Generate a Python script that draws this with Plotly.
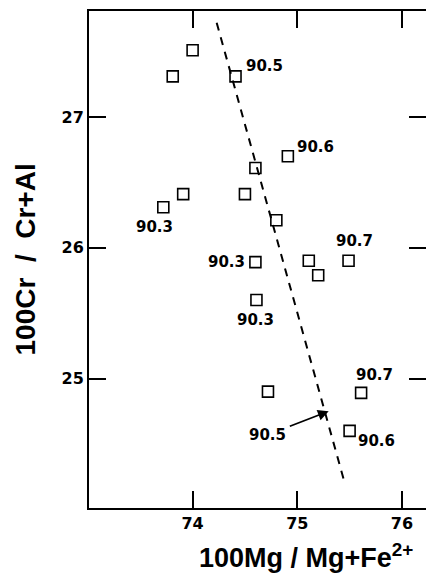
import plotly.graph_objects as go

# Data points: 100Mg/(Mg+Fe2+) vs 100Cr/(Cr+Al)
mg_number = [74.00, 73.81, 74.41, 74.91, 74.60, 73.91, 74.50, 73.72, 74.80,
             74.60, 75.11, 75.20, 75.49, 74.61, 74.72, 75.61, 75.50]
cr_number = [27.51, 27.31, 27.31, 26.70, 26.61, 26.41, 26.41, 26.31, 26.21,
             25.89, 25.90, 25.79, 25.90, 25.60, 24.90, 24.89, 24.60]

# Dashed trend line endpoints
trend_x = [74.23, 75.45]
trend_y = [27.72, 24.21]

# Point labels (text and label-centre position)
label_text = ["90.5", "90.6", "90.3", "90.3", "90.7", "90.3", "90.7", "90.6"]
label_x = [74.69, 75.17, 73.64, 74.32, 75.55, 74.60, 75.74, 75.76]
label_y = [27.39, 26.77, 26.16, 25.89, 26.05, 25.45, 25.03, 24.52]

# Arrowed label pointing to the trend line
arrow_label = "90.5"
arrow_label_pos = (74.72, 24.57)
arrow_head = (75.30, 24.75)

x_ticks = [74, 75, 76]
y_ticks = [25, 26, 27]
x_range = [73.01, 76.23]
y_range = [24.01, 27.81]

FONT = "Liberation Sans, Arial, Helvetica, sans-serif"
WIDE = "DejaVu Sans, Verdana, sans-serif"

fig = go.Figure()
fig.add_trace(go.Scatter(
    x=trend_x, y=trend_y, mode="lines",
    line=dict(color="black", width=2, dash="8px,7px"),
    hoverinfo="skip", showlegend=False))
fig.add_trace(go.Scatter(
    x=mg_number, y=cr_number, mode="markers",
    marker=dict(symbol="square-open", size=11, color="black",
                line=dict(color="black", width=1.6)),
    showlegend=False))
# invisible trace to activate right-side tick axis
fig.add_trace(go.Scatter(x=[x_range[0]], y=[y_range[0]], yaxis="y2",
                         mode="markers", marker=dict(opacity=0),
                         hoverinfo="skip", showlegend=False))

annotations = []
for t, lx, ly in zip(label_text, label_x, label_y):
    annotations.append(dict(x=lx, y=ly, xref="x", yref="y", text=f"<b>{t}</b>",
                            showarrow=False, xanchor="center", yanchor="middle",
                            font=dict(family=WIDE, size=15, color="black")))
annotations.append(dict(x=arrow_head[0], y=arrow_head[1],
                        ax=arrow_label_pos[0], ay=arrow_label_pos[1],
                        xref="x", yref="y", axref="x", ayref="y",
                        text=f"<b>{arrow_label}</b>",
                        font=dict(family=WIDE, size=15, color="black"),
                        showarrow=True, arrowhead=2, arrowsize=1.2, arrowwidth=1.8,
                        arrowcolor="black", standoff=0, startstandoff=2))
annotations.append(dict(x=(306 - 89) / 337, y=-0.135, xref="paper", yref="paper",
                        text="<b>100Mg / Mg+Fe<sup>2+</sup></b>", showarrow=False,
                        xanchor="center", yanchor="bottom",
                        font=dict(family=FONT, size=27, color="black")))
annotations.append(dict(x=-0.187, y=0.5, xref="paper", yref="paper",
                        text="<b>100Cr \u00a0/\u00a0 Cr+Al</b>", showarrow=False, textangle=-90,
                        xanchor="center", yanchor="middle",
                        font=dict(family=FONT, size=28, color="black")))

fig.update_layout(
    template="none",
    width=426, height=577,
    margin=dict(l=89, r=0, t=11, b=69, autoexpand=False),
    paper_bgcolor="white", plot_bgcolor="white",
    annotations=annotations,
    xaxis=dict(range=x_range, tickvals=x_ticks, ticktext=[str(v) for v in x_ticks],
               automargin=False,
               showgrid=False, zeroline=False, showline=True, linecolor="black",
               linewidth=2, mirror="ticks", ticks="inside", ticklen=17, tickwidth=2,
               tickcolor="black",
               tickfont=dict(family=WIDE, size=16, color="black", weight="bold")),
    yaxis=dict(range=y_range, tickvals=y_ticks, ticktext=[str(v) for v in y_ticks],
               automargin=False,
               showgrid=False, zeroline=False, showline=True, linecolor="black",
               linewidth=2, mirror=False, ticks="inside", ticklen=17, tickwidth=2,
               tickcolor="black",
               tickfont=dict(family=WIDE, size=16, color="black", weight="bold")),
    yaxis2=dict(range=y_range, tickvals=y_ticks, overlaying="y", side="right",
                automargin=False,
                showgrid=False, zeroline=False, showline=False, showticklabels=False,
                ticks="inside", ticklen=17, tickwidth=2, tickcolor="black"),
)

fig.write_html(
    "out.html",
    config={"displayModeBar": False},
    post_script="document.body.style.margin='0';document.body.style.overflow='hidden';",
)
